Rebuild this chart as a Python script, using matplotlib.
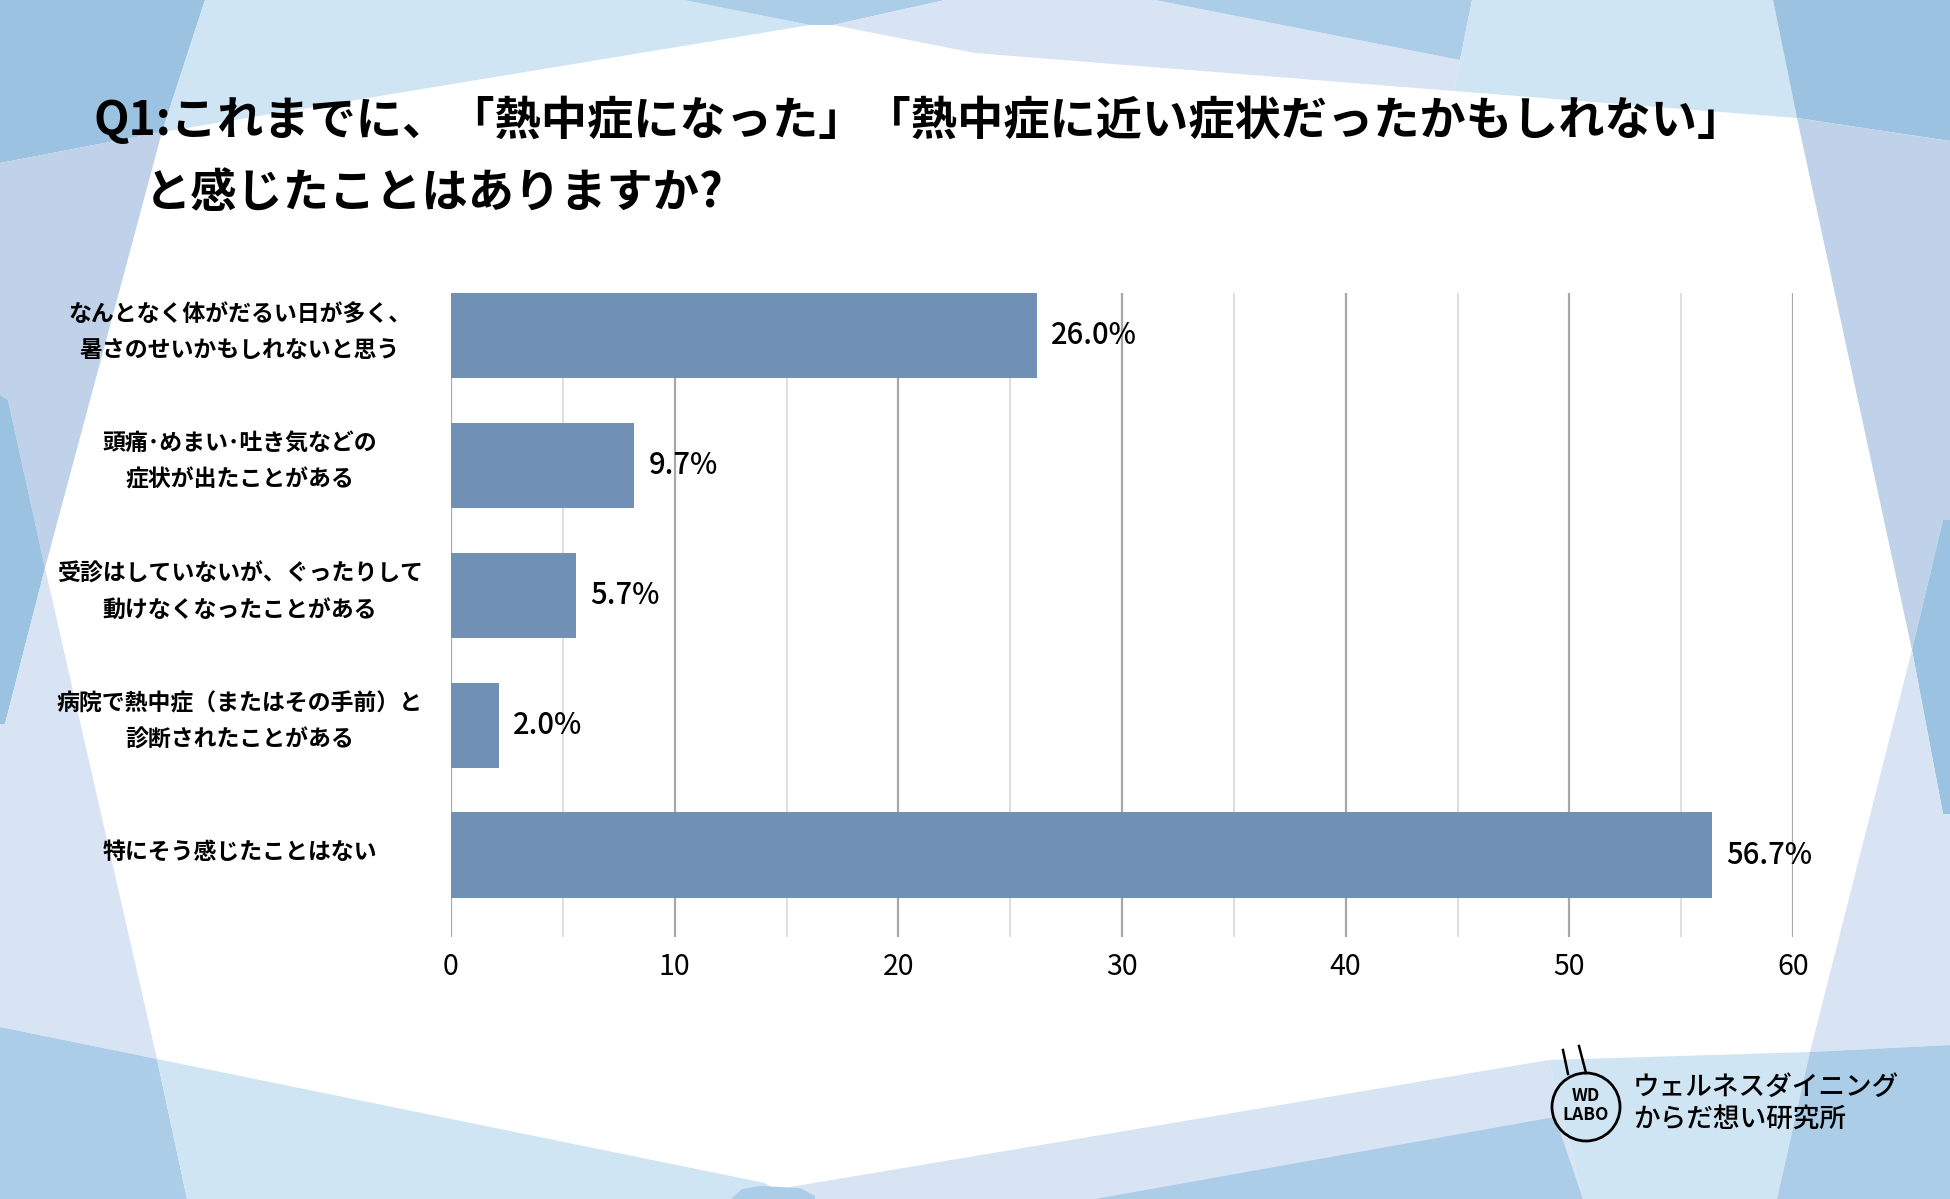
import numpy as np
import matplotlib
matplotlib.use('Agg')
import matplotlib.pyplot as plt
from matplotlib.patches import Polygon, Circle
from matplotlib.transforms import ScaledTranslation

plt.rcParams['font.family'] = ['Noto Sans CJK JP', 'DejaVu Sans']

W, H = 1950, 1199

# データ
categories = [
    'なんとなく体がだるい日が多く、\n暑さのせいかもしれないと思う',
    '頭痛･めまい･吐き気などの\n症状が出たことがある',
    '受診はしていないが、ぐったりして\n動けなくなったことがある',
    '病院で熱中症（またはその手前）と\n診断されたことがある',
    '特にそう感じたことはない',
]
pct_labels  = [26.0, 9.7, 5.7, 2.0, 56.7]      # ラベルの数値
bar_lengths = [26.2, 8.2, 5.6, 2.15, 56.4]     # 図上の棒の長さ
xtick_vals  = [0, 10, 20, 30, 40, 50, 60]

title_1 = 'Q1:これまでに、「熱中症になった」「熱中症に近い症状だったかもしれない」'
title_2 = 'と感じたことはありますか?'
brand_1 = 'ウェルネスダイニング'
brand_2 = 'からだ想い研究所'

# 背景の多角形（ピクセル座標, y下向き）
DARK  = '#9bc2e1'
MID   = '#abcde8'
CYAN  = '#cfe5f3'
PERI  = '#bfd2e9'
PALE  = '#d8e4f4'
bg_shapes = [
    (DARK, [(0, 0), (205, 0), (162, 132), (0, 163)]),
    (CYAN, [(205, 0), (684, 0), (810, 25), (162, 132)]),
    (MID,  [(684, 0), (945, 0), (833, 25), (810, 25)]),
    (PALE, [(833, 25), (945, 0), (1155, 0), (1460, 60), (1454, 91), (975, 53)]),
    (MID,  [(1155, 0), (1472, 0), (1460, 60)]),
    (CYAN, [(1472, 0), (1773, 0), (1797, 118), (1454, 91), (1460, 60)]),
    (DARK, [(1773, 0), (1950, 0), (1950, 141), (1797, 118)]),
    (PERI, [(1797, 118), (1950, 141), (1950, 520), (1943, 520), (1912, 650)]),
    (DARK, [(1943, 520), (1950, 520), (1950, 814), (1943, 814), (1912, 650)]),
    (PALE, [(1912, 650), (1943, 814), (1950, 814), (1950, 1045), (1810, 1052)]),
    (PERI, [(0, 163), (162, 132), (45, 568), (8, 400), (0, 395)]),
    (DARK, [(0, 395), (8, 400), (45, 568), (5, 724), (0, 724)]),
    (PALE, [(0, 724), (5, 724), (45, 568), (157, 1059), (0, 1027)]),
    (MID,  [(0, 1027), (157, 1059), (187, 1199), (0, 1199)]),
    (CYAN, [(157, 1059), (765, 1183), (790, 1199), (187, 1199)]),
    (PALE, [(790, 1199), (790, 1187), (1549, 1060), (1583, 1199)]),
    (MID,  [(1095, 1199), (1555, 1117), (1583, 1199)]),
    (MID,  [(731, 1199), (742, 1189), (760, 1186), (800, 1188), (815, 1196), (815, 1199)]),
    (CYAN, [(1549, 1060), (1810, 1052), (1777, 1199), (1583, 1199)]),
    (MID,  [(1810, 1052), (1950, 1045), (1950, 1199), (1777, 1199)]),
]

fig = plt.figure(figsize=(W / 100, H / 100), dpi=100)

# 背景
bg = fig.add_axes([0, 0, 1, 1], zorder=0)
bg.set_xlim(0, W)
bg.set_ylim(H, 0)
bg.axis('off')
for col, pts in bg_shapes:
    bg.add_patch(Polygon(pts, closed=True, facecolor=col, edgecolor='none'))

# タイトル
fig.text(93 / W, 1 - 121 / H, title_1, fontsize=33.3, fontweight='bold', va='center', ha='left')
fig.text(145 / W, 1 - 193 / H, title_2, fontsize=33.3, fontweight='bold', va='center', ha='left')

# 棒グラフ
x0, x1, y0, y1 = 451, 1793, 293, 937
ax = fig.add_axes([x0 / W, 1 - y1 / H, (x1 - x0) / W, (y1 - y0) / H], zorder=1)
ax.set_facecolor('none')
y = np.arange(len(categories))
ax.barh(y, bar_lengths, height=0.658, color='#7190b5', zorder=2)
ax.set_xlim(0, 60)
ax.set_ylim(4.63, -0.329)
ax.set_xticks(xtick_vals)
ax.set_xticks(np.arange(5, 60, 10), minor=True)
ax.grid(axis='x', which='major', color='#a8a8a8', linewidth=1.6)
ax.grid(axis='x', which='minor', color='#dcdcdc', linewidth=1.3)
ax.set_axisbelow(True)
for s in ax.spines.values():
    s.set_visible(False)

ax.set_yticks(y)
ax.set_yticklabels(categories, ha='center', fontsize=16.5, fontweight='bold', linespacing=1.7)
ax.tick_params(axis='y', length=0, pad=152)
ax.tick_params(axis='x', which='both', length=0, pad=11, labelsize=20.5)
for lab in ax.get_yticklabels():
    up = 12 if '\n' in lab.get_text() else 5
    lab.set_transform(lab.get_transform() + ScaledTranslation(0, up / 100, fig.dpi_scale_trans))

for yi, L, v in zip(y, bar_lengths, pct_labels):
    ax.annotate(f'{v:.1f}%', xy=(L, yi), xytext=(10, 0), textcoords='offset points',
                va='center', ha='left', fontsize=21, fontweight='medium')

# ロゴ
bg.add_patch(Circle((1586, 1107), 34, fill=False, edgecolor='black', linewidth=2))
bg.plot([1563, 1568], [1050, 1074], color='black', linewidth=1.8)
bg.plot([1579, 1586], [1046, 1073], color='black', linewidth=1.8)
bg.text(1586, 1096, 'WD', fontsize=12.5, fontweight='bold', ha='center', va='center')
bg.text(1586, 1115, 'LABO', fontsize=12.5, fontweight='bold', ha='center', va='center')
fig.text(1633 / W, 1 - 1087 / H, brand_1, fontsize=19.2, fontweight='medium', va='center', ha='left')
fig.text(1633 / W, 1 - 1120 / H, brand_2, fontsize=19.2, fontweight='medium', va='center', ha='left')

fig.savefig('out.png', dpi=100)
